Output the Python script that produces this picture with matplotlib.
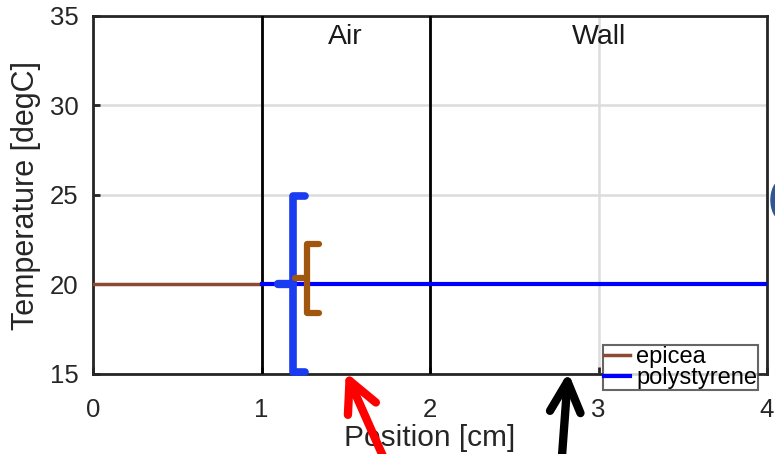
import numpy as np
import matplotlib.pyplot as plt
from matplotlib.patches import Ellipse

plt.rcParams['font.family'] = ['Liberation Sans', 'DejaVu Sans']

# data
epicea_x = [0, 1.0]
epicea_y = [20, 20]
poly_x = [1.0, 4.0]
poly_y = [20, 20]
boundaries = [1, 2]
zone_labels = ['Air', 'Wall']
zone_x = [1.5, 3.0]
xticks = [0, 1, 2, 3, 4]
yticks = [15, 20, 25, 30, 35]

# bracket annotations
blue_br_x = [1.258, 1.187, 1.187, 1.258]
blue_br_y = [24.94, 24.94, 15.1, 15.1]
blue_stub_x = [1.10, 1.187]
blue_stub_y = [20, 20]
brown_br_x = [1.341, 1.270, 1.270, 1.341]
brown_br_y = [22.26, 22.26, 18.41, 18.41]
brown_stub_x = [1.199, 1.270]
brown_stub_y = [20.36, 20.36]

# arrows: (tip, tail)
red_arrow = ((1.50, 15.1), (1.74, 10.0))
black_arrow = ((2.82, 15.1), (2.78, 10.0))

fig = plt.figure(figsize=(7.75, 4.54), dpi=100)
ax = fig.add_axes([93/775, 1-374/454, 674/775, 358/454])

ax.set_xlim(0, 4)
ax.set_ylim(15, 35)
ax.set_xticks(xticks)
ax.set_yticks(yticks)
ax.grid(True, color='#dcdcdc', lw=1.8)
ax.set_axisbelow(True)

for b in boundaries:
    ax.plot([b, b], [15, 35], color='black', lw=2, zorder=3)
for lab, xx in zip(zone_labels, zone_x):
    ax.text(xx, 33.8, lab, ha='center', va='center', fontsize=20.5, color='#1a1a1a')

ax.plot(epicea_x, epicea_y, color='#8c4a32', lw=2.5, label='epicea', zorder=4)
ax.plot(poly_x, poly_y, color='#0000ff', lw=3, label='polystyrene', zorder=4)

ax.plot(blue_br_x, blue_br_y, color='#1a3cf0', lw=5.5, solid_joinstyle='round',
        solid_capstyle='round', zorder=5, clip_on=False)
ax.plot(blue_stub_x, blue_stub_y, color='#1a3cf0', lw=6, solid_capstyle='round', zorder=5)
ax.plot(brown_br_x, brown_br_y, color='#a0560e', lw=4.5, solid_joinstyle='round',
        solid_capstyle='round', zorder=5)
ax.plot(brown_stub_x, brown_stub_y, color='#a0560e', lw=4.5, solid_capstyle='round', zorder=5)

for (tip, tail), col in [(red_arrow, '#ff0000'), (black_arrow, 'black')]:
    ax.annotate('', xy=tip, xytext=tail, annotation_clip=False,
                arrowprops=dict(arrowstyle='->', color=col, lw=6,
                                mutation_scale=55, capstyle='round',
                                joinstyle='round', shrinkA=0, shrinkB=0),
                zorder=6)

for s in ax.spines.values():
    s.set_color('#262626')
    s.set_linewidth(2)
ax.tick_params(direction='in', length=5, width=2, colors='#262626',
               labelsize=18.5, labelcolor='#262626')
ax.tick_params(axis='x', pad=17)
ax.tick_params(axis='y', pad=10.5)

ax.set_xlabel('Position [cm]', fontsize=21.5, color='#262626', labelpad=2)
ax.set_ylabel('Temperature [degC]', fontsize=22, color='#262626', labelpad=6)

leg = ax.legend(loc='lower left', bbox_to_anchor=(0.757, -0.045), fontsize=17,
                frameon=True, fancybox=False, borderpad=0.05, labelspacing=-0.05,
                handlelength=1.1, handletextpad=0.25, borderaxespad=0)
leg.get_frame().set_edgecolor('#404040')
leg.get_frame().set_linewidth(1.5)
leg.set_zorder(7)

fig.patches.append(Ellipse((781/775, 1-200/454), 20/775, 38/454,
                           transform=fig.transFigure, color='#2f5597', clip_on=False))

fig.savefig('out.png', dpi=100)
